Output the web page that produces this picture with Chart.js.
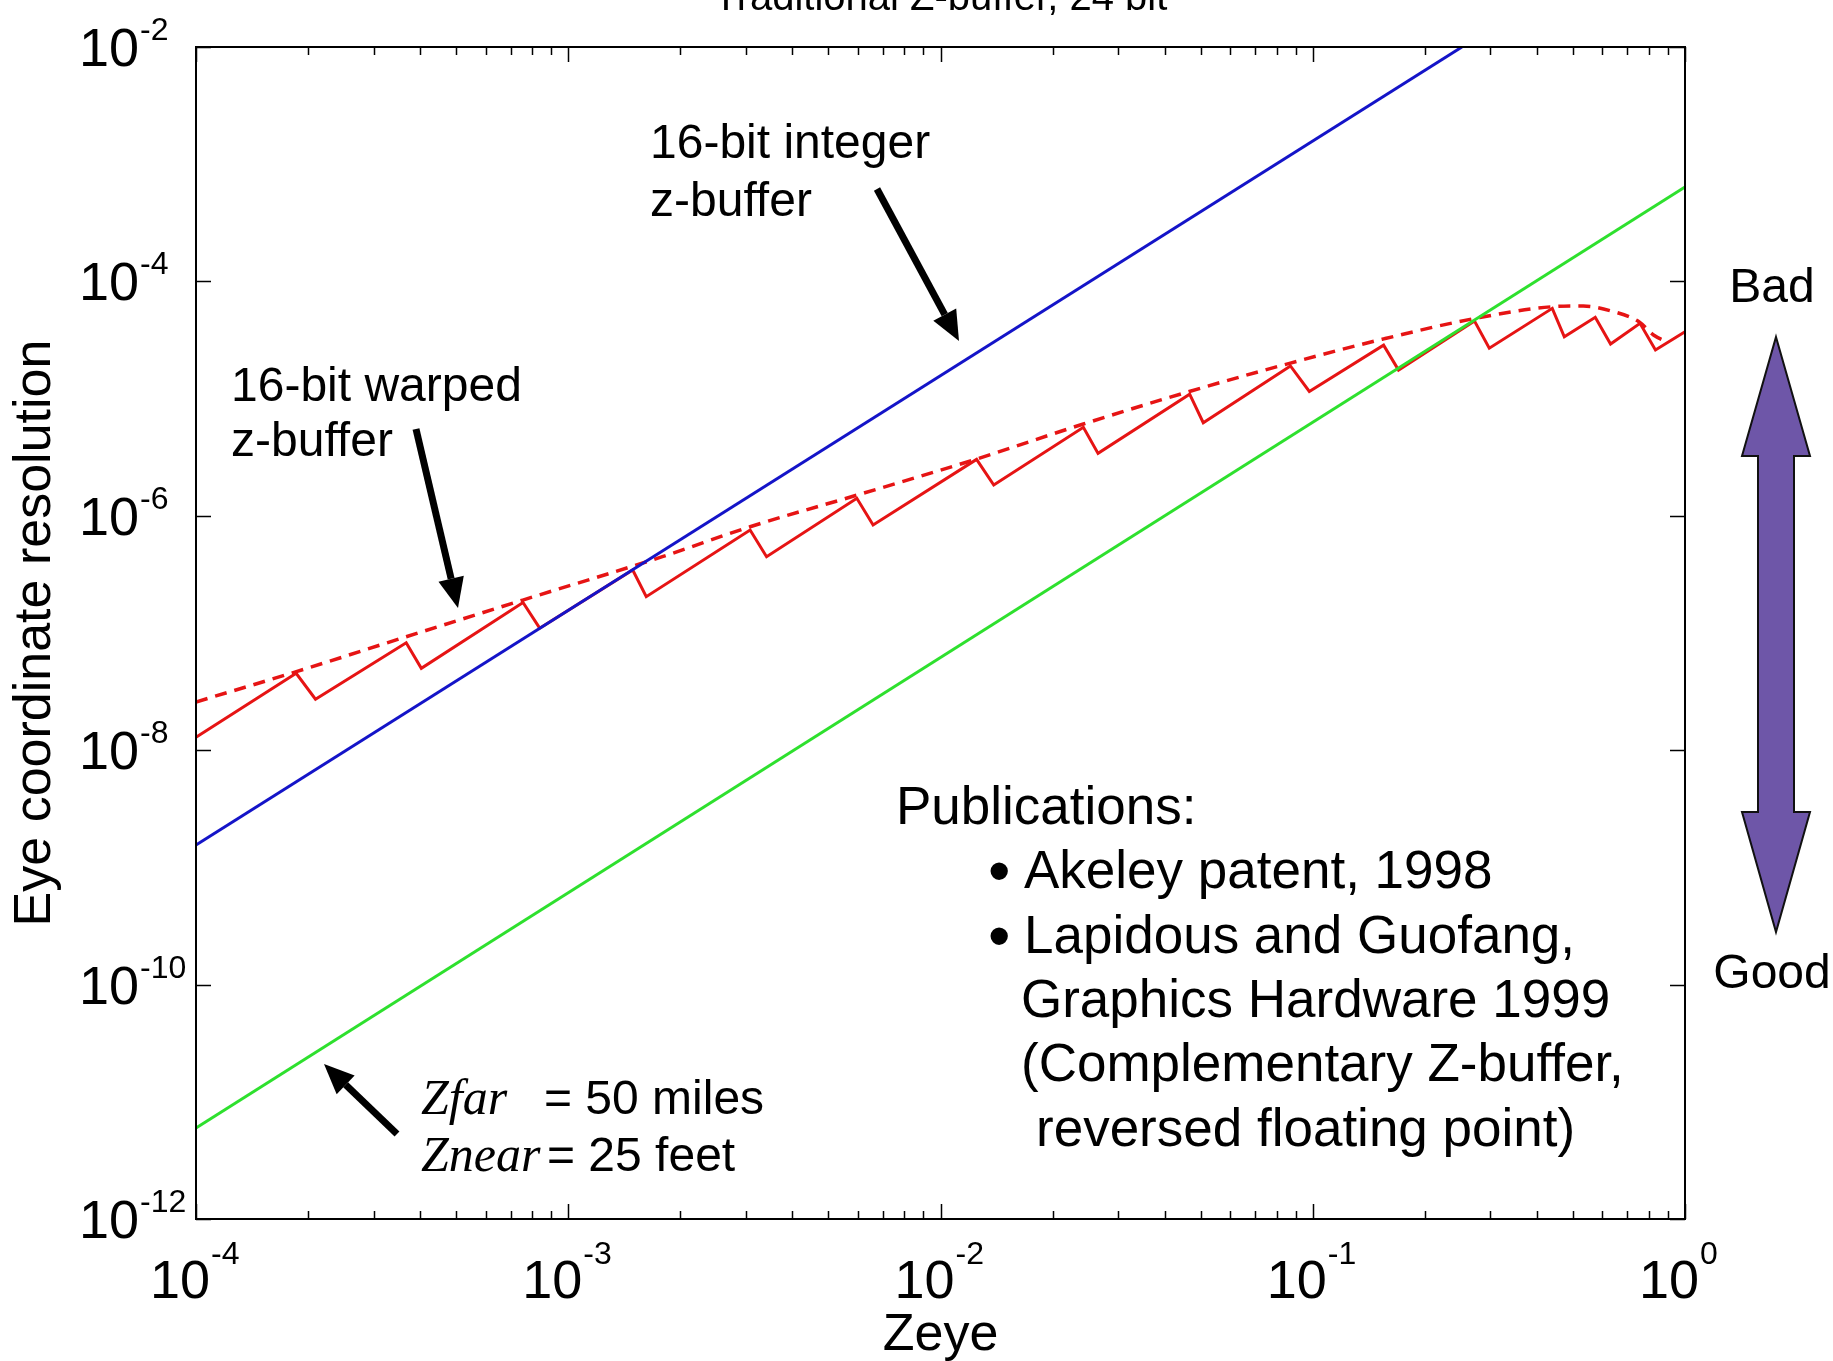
<!DOCTYPE html>
<html>
<head>
<meta charset="utf-8">
<script src="https://cdn.jsdelivr.net/npm/chart.js@4.4.1/dist/chart.umd.min.js"></script>
<style>
html, body { margin: 0; padding: 0; background: #fff; }
#wrap { width: 1833px; height: 1361px; }
</style>
</head>
<body>
<div id="wrap"><canvas id="zchart" width="1833" height="1361"></canvas></div>
<script>
// axis ranges (log-log) and the decades that get a label
var xMin = 1e-4, xMax = 1;
var yMin = 1e-12, yMax = 1e-2;
var xTickExps = [-4, -3, -2, -1, 0];
var yTickExps = [-2, -4, -6, -8, -10, -12];

// 16-bit integer z-buffer (blue)
var intX = [1e-4, 0.2516];
var intY = [1.55e-9, 1e-2];

// green reference line
var greenX = [1e-4, 1];
var greenY = [5.97e-12, 6.38e-4];

// 16-bit warped z-buffer, sawtooth (red solid)
var warpX = [1e-4, 1.858e-4, 2.094e-4, 3.67e-4, 4.03e-4, 7.56e-4, 8.38e-4, 1.49e-3, 1.62e-3,
             3.08e-3, 3.41e-3, 5.96e-3, 6.59e-3, 1.25e-2, 1.39e-2, 2.42e-2, 2.65e-2,
             4.67e-2, 5.08e-2, 8.71e-2, 9.79e-2, 0.155, 0.170, 0.272, 0.298,
             0.440, 0.474, 0.574, 0.631, 0.757, 0.833, 1.0];
var warpY = [1.29e-8, 4.53e-8, 2.72e-8, 8.26e-8, 5.0e-8, 1.82e-7, 1.10e-7, 3.45e-7, 2.04e-7,
             7.57e-7, 4.48e-7, 1.41e-6, 8.36e-7, 3.03e-6, 1.83e-6, 5.69e-6, 3.41e-6,
             1.09e-5, 6.22e-6, 1.90e-5, 1.15e-5, 2.86e-5, 1.75e-5, 4.59e-5, 2.69e-5,
             5.89e-5, 3.37e-5, 4.94e-5, 2.92e-5, 4.39e-5, 2.60e-5, 3.72e-5];

// warped z-buffer envelope (red dashed)
var envX = [1e-4, 1.86e-4, 3.67e-4, 7.55e-4, 1.79e-3, 3.08e-3, 5.96e-3, 1.25e-2, 2.42e-2,
            4.66e-2, 8.71e-2, 0.155, 0.272, 0.440, 0.533, 0.644, 0.752, 0.823, 0.897];
var envY = [2.58e-8, 4.68e-8, 9.29e-8, 1.91e-7, 4.48e-7, 8.07e-7, 1.50e-6, 3.05e-6, 6.07e-6,
            1.15e-5, 2.01e-5, 3.23e-5, 4.82e-5, 6.08e-5, 6.17e-5, 5.51e-5, 4.53e-5, 3.49e-5, 3.04e-5];

var SANS = '"Liberation Sans", Arial, sans-serif';
var SERIF = '"Liberation Serif", "Times New Roman", serif';

function pts(xs, ys) {
    return xs.map(function (x, i) { return { x: x, y: ys[i] }; });
}

function arrow(ctx, x1, y1, x2, y2, w, hl, hw) {
    var a = Math.atan2(y2 - y1, x2 - x1);
    var bx = x2 - hl * Math.cos(a), by = y2 - hl * Math.sin(a);
    ctx.lineWidth = w;
    ctx.beginPath();
    ctx.moveTo(x1, y1);
    ctx.lineTo(bx, by);
    ctx.stroke();
    ctx.beginPath();
    ctx.moveTo(x2, y2);
    ctx.lineTo(bx + hw / 2 * Math.sin(a), by - hw / 2 * Math.cos(a));
    ctx.lineTo(bx - hw / 2 * Math.sin(a), by + hw / 2 * Math.cos(a));
    ctx.closePath();
    ctx.fill();
}

// white page, frame, inward ticks, labels and the slide annotations
var decorations = {
    id: "decorations",
    beforeDraw: function (chart) {
        var ctx = chart.ctx;
        ctx.save();
        ctx.fillStyle = "#fff";
        ctx.fillRect(0, 0, chart.width, chart.height);
        ctx.restore();
    },
    afterDatasetsDraw: function (chart) {
        var ctx = chart.ctx, a = chart.chartArea;
        var xs = chart.scales.x, ys = chart.scales.y;
        ctx.save();
        ctx.strokeStyle = "#000";
        ctx.fillStyle = "#000";

        // box
        ctx.lineWidth = 2;
        ctx.strokeRect(a.left, a.top, a.right - a.left, a.bottom - a.top);

        // x ticks, major + minor, top and bottom
        ctx.lineWidth = 1.5;
        for (var e = -4; e <= 0; e++) {
            for (var m = 1; m <= 9; m++) {
                var v = m * Math.pow(10, e);
                if (v > xMax * 1.0001) break;
                var px = Math.round(xs.getPixelForValue(v)) + 0.5;
                var len = m === 1 ? 15 : 8;
                ctx.beginPath();
                ctx.moveTo(px, a.bottom); ctx.lineTo(px, a.bottom - len);
                ctx.moveTo(px, a.top); ctx.lineTo(px, a.top + len);
                ctx.stroke();
            }
        }
        // y ticks, left and right
        yTickExps.forEach(function (e) {
            var py = Math.round(ys.getPixelForValue(Math.pow(10, e))) + 0.5;
            ctx.beginPath();
            ctx.moveTo(a.left, py); ctx.lineTo(a.left + 15, py);
            ctx.moveTo(a.right, py); ctx.lineTo(a.right - 15, py);
            ctx.stroke();
        });

        // tick labels 10^n
        ctx.textBaseline = "alphabetic";
        yTickExps.forEach(function (e) {
            var py = ys.getPixelForValue(Math.pow(10, e));
            ctx.font = "54px " + SANS;
            ctx.textAlign = "left";
            ctx.fillText("10", 79, py + 19);
            var w = ctx.measureText("10").width;
            ctx.font = "32px " + SANS;
            ctx.fillText(String(e), 79 + w + 1, py - 7);
        });
        xTickExps.forEach(function (e) {
            var px = xs.getPixelForValue(Math.pow(10, e));
            ctx.font = "54px " + SANS;
            ctx.textAlign = "right";
            ctx.fillText("10", px + 14, 1298);
            ctx.font = "32px " + SANS;
            ctx.textAlign = "left";
            ctx.fillText(String(e), px + 15, 1264);
        });

        // axis titles + title
        ctx.font = "52px " + SANS;
        ctx.textAlign = "center";
        ctx.fillText("Zeye", (a.left + a.right) / 2, 1350);
        ctx.save();
        ctx.translate(50, (a.top + a.bottom) / 2);
        ctx.rotate(-Math.PI / 2);
        ctx.fillText("Eye coordinate resolution", 0, 0);
        ctx.restore();
        ctx.font = "40px " + SANS;
        ctx.fillText("Traditional Z-buffer, 24 bit", (a.left + a.right) / 2, 10);

        // curve labels
        ctx.textAlign = "left";
        ctx.font = "48px " + SANS;
        ctx.fillText("16-bit integer", 650, 158);
        ctx.fillText("z-buffer", 650, 216);
        ctx.fillText("16-bit warped", 231, 401);
        ctx.fillText("z-buffer", 231, 456);

        ctx.font = "italic 50px " + SERIF;
        ctx.fillText("Zfar", 421, 1114);
        ctx.fillText("Znear", 421, 1171);
        ctx.font = "48px " + SANS;
        ctx.fillText("= 50 miles", 544, 1114);
        ctx.fillText("= 25 feet", 547, 1171);

        // publications block
        ctx.font = "53px " + SANS;
        ctx.fillText("Publications:", 896, 824);
        ctx.fillText("Akeley patent, 1998", 1024, 888);
        ctx.fillText("Lapidous and Guofang,", 1024, 953);
        ctx.fillText("Graphics Hardware 1999", 1021, 1017);
        ctx.fillText("(Complementary Z-buffer,", 1021, 1081);
        ctx.fillText("reversed floating point)", 1036, 1146);
        ctx.font = "64px " + SANS;
        ctx.fillText("\u2022", 988, 893);
        ctx.fillText("\u2022", 988, 958);

        // bad / good
        ctx.font = "48px " + SANS;
        ctx.textAlign = "center";
        ctx.fillText("Bad", 1772, 302);
        ctx.fillText("Good", 1772, 988);

        // black pointer arrows
        arrow(ctx, 877, 189, 959, 341, 7, 30, 26);
        arrow(ctx, 416, 429, 458, 608, 7, 30, 26);
        arrow(ctx, 397, 1134, 324, 1064, 7, 30, 26);

        // purple double arrow
        var cx = 1776;
        ctx.beginPath();
        ctx.moveTo(cx, 337);
        ctx.lineTo(cx + 34, 456);
        ctx.lineTo(cx + 18, 456);
        ctx.lineTo(cx + 18, 812);
        ctx.lineTo(cx + 34, 812);
        ctx.lineTo(cx, 932);
        ctx.lineTo(cx - 34, 812);
        ctx.lineTo(cx - 18, 812);
        ctx.lineTo(cx - 18, 456);
        ctx.lineTo(cx - 34, 456);
        ctx.closePath();
        ctx.fillStyle = "#6e56a8";
        ctx.fill();
        ctx.lineWidth = 2;
        ctx.strokeStyle = "#111";
        ctx.stroke();

        ctx.restore();
    }
};

var ctx = document.getElementById("zchart").getContext("2d");

new Chart(ctx, {
    type: "scatter",
    data: {
        datasets: [
            {
                label: "reference",
                data: pts(greenX, greenY),
                borderColor: "#2ee02e",
                borderWidth: 3
            },
            {
                label: "16-bit integer z-buffer",
                data: pts(intX, intY),
                borderColor: "#1414c8",
                borderWidth: 3
            },
            {
                label: "16-bit warped z-buffer",
                data: pts(warpX, warpY),
                borderColor: "#e61414",
                borderWidth: 3
            },
            {
                label: "warped envelope",
                data: pts(envX, envY),
                borderColor: "#e61414",
                borderWidth: 3.5,
                borderDash: [12, 8],
                cubicInterpolationMode: "monotone"
            }
        ].map(function (d) {
            d.showLine = true;
            d.pointRadius = 0;
            d.pointHoverRadius = 0;
            d.fill = false;
            return d;
        })
    },
    options: {
        responsive: false,
        animation: false,
        layout: {
            padding: { left: 196, right: 148, top: 47, bottom: 142 }
        },
        scales: {
            x: { type: "logarithmic", min: xMin, max: xMax, display: false },
            y: { type: "logarithmic", min: yMin, max: yMax, display: false }
        },
        plugins: {
            legend: { display: false },
            tooltip: { enabled: false },
            title: { display: false }
        }
    },
    plugins: [decorations]
});
</script>
</body>
</html>
